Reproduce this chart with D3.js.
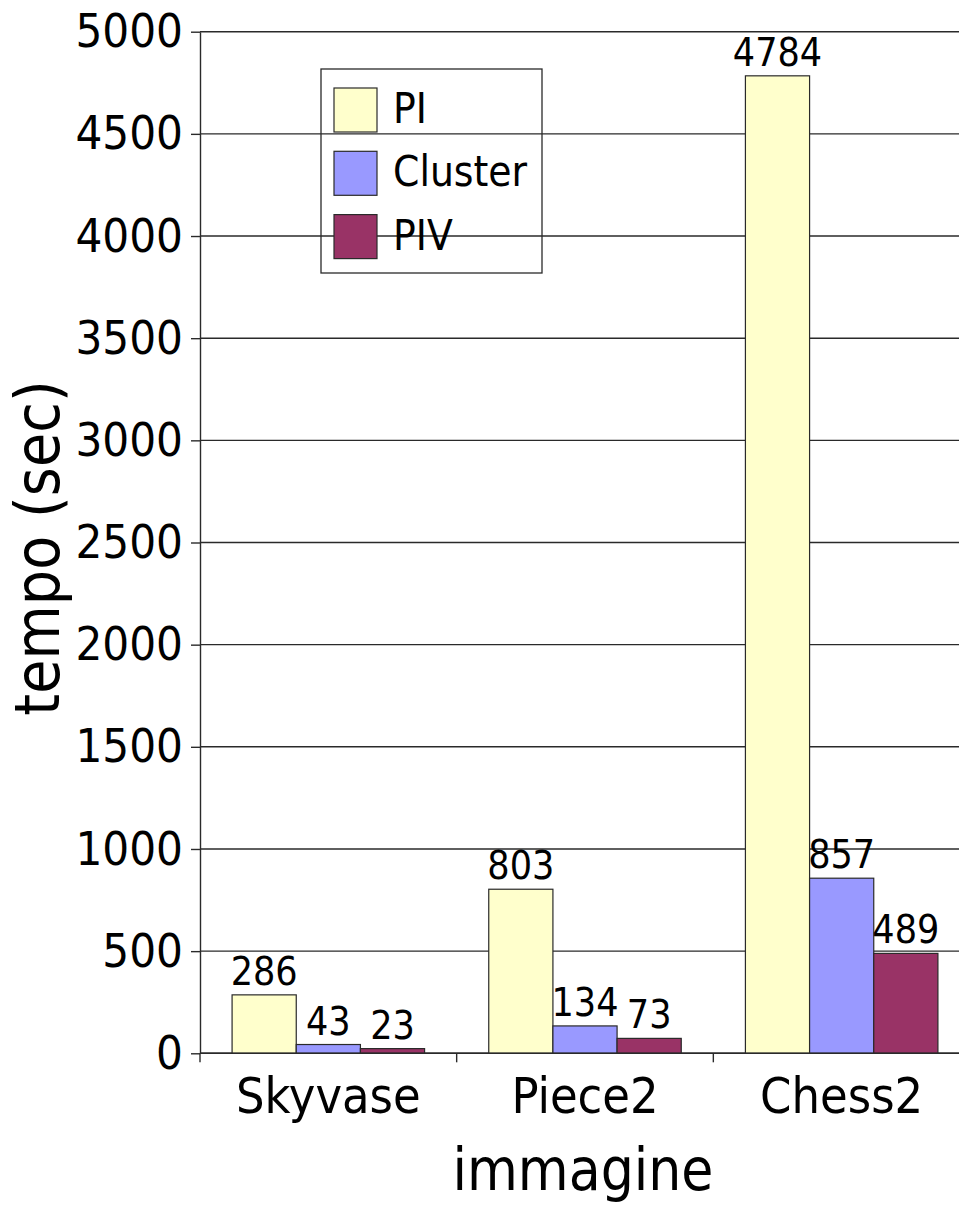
<!DOCTYPE html>
<html>
<head>
<meta charset="utf-8">
<script src="https://cdn.jsdelivr.net/npm/d3@7"></script>
<style>
  body { margin: 0; background: #fff; }
  svg text { font-family: "DejaVu Sans Condensed", "DejaVu Sans", sans-serif; font-stretch: condensed; fill: #000; }
</style>
</head>
<body>
<div id="chart"></div>
<script>
// data
const categories = ['Skyvase', 'Piece2', 'Chess2']
const seriesNames = ['PI', 'Cluster', 'PIV']
const piValues = [286, 803, 4784]
const clusterValues = [43, 134, 857]
const pivValues = [23, 73, 489]
const yTickValues = [0, 500, 1000, 1500, 2000, 2500, 3000, 3500, 4000, 4500, 5000]
const colors = ['#ffffcc', '#9999ff', '#993366']

const xTitle = 'immagine'
const yTitle = 'tempo (sec)'

const width = 959
const height = 1205
const plot = { left: 200, right: 970, top: 31.7, bottom: 1053.3 }

const values = [piValues, clusterValues, pivValues]
const dataset = categories.map((c, i) => ({
  cat: c,
  bars: seriesNames.map((s, j) => ({ name: s, value: values[j][i], color: colors[j] }))
}))

const svg = d3.select('#chart')
  .append('svg')
  .attr('width', width)
  .attr('height', height)

const x0 = d3.scaleBand()
  .domain(categories)
  .range([plot.left, plot.right])

const x1 = d3.scaleBand()
  .domain(seriesNames)
  .range([0, x0.bandwidth()])
  .paddingOuter(0.5)

const y = d3.scaleLinear()
  .domain([0, 5000])
  .range([plot.bottom, plot.top])

// gridlines
svg.append('g')
  .selectAll('line')
  .data(yTickValues)
  .enter()
  .append('line')
  .attr('x1', plot.left)
  .attr('x2', plot.right)
  .attr('y1', d => y(d))
  .attr('y2', d => y(d))
  .attr('stroke', '#2a2a2a')
  .attr('stroke-width', 1.4)

// y axis
const yAxis = d3.axisLeft(y)
  .tickValues(yTickValues)
  .tickFormat(d3.format('d'))
  .tickSize(9)
  .tickPadding(8)
  .tickSizeOuter(0)

const yG = svg.append('g')
  .attr('transform', `translate(${plot.left}, 0)`)
  .call(yAxis)
yG.select('.domain').attr('stroke', '#2a2a2a').attr('stroke-width', 1.4)
yG.selectAll('.tick line').attr('stroke', '#2a2a2a').attr('stroke-width', 1.4)
yG.selectAll('.tick text')
  .attr('font-size', 47)
  .attr('font-family', null)

// bars
const groups = svg.append('g')
  .selectAll('g')
  .data(dataset)
  .enter()
  .append('g')
  .attr('transform', d => `translate(${x0(d.cat)}, 0)`)

groups.selectAll('rect')
  .data(d => d.bars)
  .enter()
  .append('rect')
  .attr('x', d => x1(d.name))
  .attr('width', x1.bandwidth())
  .attr('y', d => y(d.value))
  .attr('height', d => y(0) - y(d.value))
  .attr('fill', d => d.color)
  .attr('stroke', '#2a2a2a')
  .attr('stroke-width', 1.2)

groups.selectAll('text')
  .data(d => d.bars)
  .enter()
  .append('text')
  .attr('x', d => x1(d.name) + x1.bandwidth() / 2)
  .attr('y', d => y(d.value) - 10)
  .attr('text-anchor', 'middle')
  .attr('font-size', 39)
  .text(d => d.value)

// x axis
const xAxisG = svg.append('g')
xAxisG.append('line')
  .attr('x1', plot.left)
  .attr('x2', plot.right)
  .attr('y1', y(0))
  .attr('y2', y(0))
  .attr('stroke', '#2a2a2a')
  .attr('stroke-width', 1.4)

const bounds = categories.map(c => x0(c)).concat([plot.right])
xAxisG.selectAll('line.tick')
  .data(bounds)
  .enter()
  .append('line')
  .attr('class', 'tick')
  .attr('x1', d => d)
  .attr('x2', d => d)
  .attr('y1', y(0))
  .attr('y2', y(0) + 9)
  .attr('stroke', '#2a2a2a')
  .attr('stroke-width', 1.4)

xAxisG.selectAll('text')
  .data(categories)
  .enter()
  .append('text')
  .attr('x', d => x0(d) + x0.bandwidth() / 2)
  .attr('y', 1113)
  .attr('text-anchor', 'middle')
  .attr('font-size', 50)
  .text(d => d)

// axis titles
svg.append('text')
  .attr('x', 583)
  .attr('y', 1190)
  .attr('text-anchor', 'middle')
  .attr('font-size', 58)
  .text(xTitle)

svg.append('text')
  .attr('transform', `translate(59, 548) rotate(-90)`)
  .attr('text-anchor', 'middle')
  .attr('font-size', 62)
  .text(yTitle)

// legend
const legend = svg.append('g')
  .attr('transform', 'translate(321, 69)')

legend.append('rect')
  .attr('width', 221)
  .attr('height', 204)
  .attr('fill', 'none')
  .attr('stroke', '#2a2a2a')
  .attr('stroke-width', 1.3)

const legendRows = legend.selectAll('g')
  .data(seriesNames)
  .enter()
  .append('g')
  .attr('transform', (d, i) => `translate(13, ${19 + i * 63.3})`)

legendRows.append('rect')
  .attr('width', 43)
  .attr('height', 44)
  .attr('fill', (d, i) => colors[i])
  .attr('stroke', '#2a2a2a')
  .attr('stroke-width', 1.2)

legendRows.append('text')
  .attr('x', 59)
  .attr('y', 35)
  .attr('font-size', 42)
  .text(d => d)
</script>
</body>
</html>
